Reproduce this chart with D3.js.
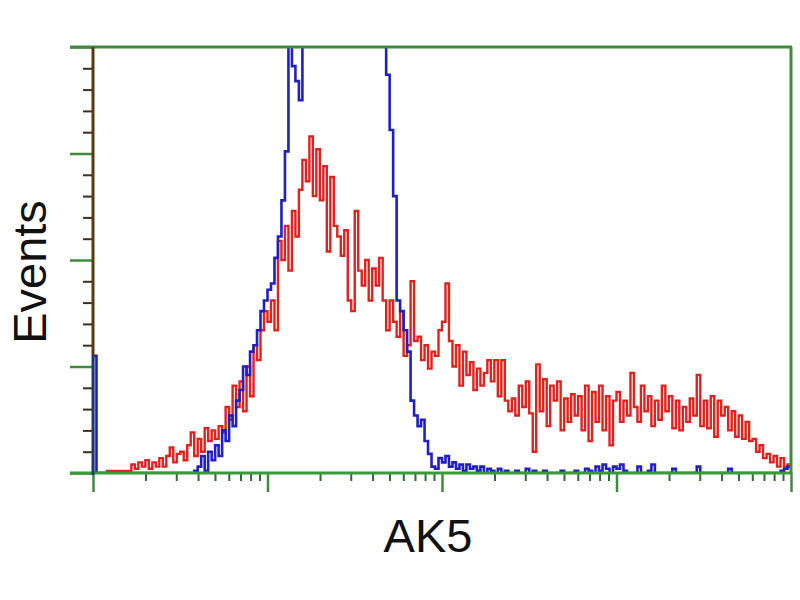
<!DOCTYPE html>
<html>
<head>
<meta charset="utf-8">
<script src="https://cdn.jsdelivr.net/npm/d3@7"></script>
<style>
  html, body { margin: 0; padding: 0; background: #fff; }
  svg { display: block; }
</style>
</head>
<body>
<svg id="chart" width="800" height="600"></svg>
<script>
// ---- Data (event counts per channel, 200 channels over 4 log decades) ----
const xLabel = "AK5";
const yLabel = "Events";
const decadeTicks = [1, 10, 100, 1000, 10000];
const yMajorTicks = [0, 50, 100, 150, 200];

const redCounts = [
  0, 0, 0, 0, 1, 1, 1, 1, 1, 1,
  1, 4, 2, 5, 3, 6, 2, 5, 3, 7,
  3, 8, 12, 5, 9, 10, 6, 13, 19, 8,
  16, 10, 21, 15, 20, 16, 22, 19, 31, 25,
  41, 31, 43, 29, 50, 36, 60, 53, 67, 76,
  71, 81, 67, 109, 100, 116, 95, 123, 111, 133,
  147, 137, 158, 130, 152, 128, 144, 104, 139, 116,
  111, 102, 114, 81, 76, 123, 95, 88, 100, 81,
  96, 88, 101, 81, 67, 81, 71, 64, 76, 55,
  60, 90, 62, 64, 53, 60, 49, 57, 55, 67,
  71, 89, 62, 50, 60, 41, 57, 46, 52, 39,
  49, 41, 47, 53, 43, 53, 36, 53, 34, 29,
  35, 27, 41, 31, 43, 28, 10, 51, 29, 44,
  22, 41, 34, 43, 20, 35, 24, 37, 27, 36,
  20, 41, 15, 38, 24, 41, 20, 36, 13, 34,
  38, 24, 34, 27, 47, 31, 24, 41, 29, 36,
  22, 34, 25, 41, 29, 36, 21, 34, 20, 31,
  24, 35, 27, 46, 22, 34, 21, 36, 17, 34,
  27, 31, 20, 29, 17, 27, 16, 24, 15, 16,
  10, 13, 7, 9, 5, 8, 3, 7, 3, 4
];

const blueCounts = [
  55, 0, 0, 0, 0, 0, 0, 0, 0, 0,
  0, 0, 0, 0, 0, 0, 0, 0, 0, 0,
  0, 0, 0, 0, 0, 0, 0, 0, 0, 1,
  3, 8, 1, 10, 6, 13, 8, 20, 15, 27,
  22, 34, 39, 50, 46, 57, 60, 67, 76, 81,
  86, 89, 101, 111, 128, 151, 260, 191, 184, 175,
  280, 310, 340, 370, 390, 400, 395, 385, 375, 360,
  350, 335, 320, 305, 290, 280, 270, 260, 250, 240,
  232, 224, 215, 205, 187, 161, 130, 81, 76, 67,
  57, 34, 27, 22, 25, 15, 9, 3, 2, 7,
  5, 8, 3, 5, 2, 4, 1, 4, 2, 3,
  1, 3, 0, 2, 1, 0, 2, 0, 1, 0,
  0, 1, 0, 0, 2, 0, 1, 0, 0, 1,
  0, 0, 0, 0, 1, 0, 0, 0, 1, 0,
  0, 2, 1, 0, 3, 1, 4, 2, 0, 3,
  2, 4, 1, 0, 0, 0, 3, 0, 0, 1,
  4, 0, 0, 0, 0, 0, 2, 0, 0, 0,
  0, 0, 0, 3, 0, 0, 0, 0, 0, 0,
  0, 0, 2, 0, 0, 0, 0, 0, 0, 0,
  0, 0, 0, 0, 0, 0, 0, 1, 2, 3
];

// ---- Layout ----
const svg = d3.select("#chart");
const pL = 93, pR = 791, pT = 47, pB = 473;
const nChan = redCounts.length;

const xChan = d3.scaleLinear().domain([0, nChan]).range([pL, pR]);
const xLog = d3.scaleLog().domain([1, 10000]).range([pL, pR]);
const y = d3.scaleLinear().domain([0, 200]).range([pB, pT]);

svg.append("rect").attr("width", 800).attr("height", 600).attr("fill", "#fff");

svg.append("defs").append("clipPath").attr("id", "plotclip")
  .append("rect").attr("x", pL - 1).attr("y", pT).attr("width", pR - pL + 2).attr("height", pB - pT);

function stepPoints(counts) {
  const pts = [[0, 0]];
  counts.forEach((v, i) => { pts.push([i, v]); pts.push([i + 1, v]); });
  return pts;
}
const line = d3.line().x(d => xChan(d[0])).y(d => y(d[1]));

const plot = svg.append("g").attr("clip-path", "url(#plotclip)");
plot.append("path").datum(stepPoints(redCounts))
  .attr("d", line).attr("fill", "none").attr("stroke", "#e0221e")
  .attr("stroke-width", 2.4).attr("stroke-linejoin", "miter");
plot.append("path").datum(stepPoints(blueCounts))
  .attr("d", line).attr("fill", "none").attr("stroke", "#2020c0")
  .attr("stroke-width", 2.6).attr("stroke-linejoin", "miter");

// ---- Axes ----
const green = "#3f8a3f";
const yMinor = d3.range(0, 201, 10).filter(v => !yMajorTicks.includes(v));
const gyMinor = svg.append("g").attr("transform", `translate(${pL},0)`)
  .call(d3.axisLeft(y).tickValues(yMinor).tickSize(10).tickFormat(""));
gyMinor.select(".domain").remove();
gyMinor.selectAll("line").attr("stroke", "#3a3020").attr("stroke-width", 2);
const gyMajor = svg.append("g").attr("transform", `translate(${pL},0)`)
  .call(d3.axisLeft(y).tickValues(yMajorTicks).tickSize(23).tickFormat(""));
gyMajor.select(".domain").remove();
gyMajor.selectAll("line").attr("stroke", green).attr("stroke-width", 2.5);

const xMinor = [];
decadeTicks.slice(0, -1).forEach(d => { for (let k = 2; k <= 9; k++) xMinor.push(d * k); });
const gxMinor = svg.append("g").attr("transform", `translate(0,${pB})`)
  .call(d3.axisBottom(xLog).tickValues(xMinor).tickSize(8).tickFormat(""));
gxMinor.select(".domain").remove();
gxMinor.selectAll("line").attr("stroke", "#2f6a2f").attr("stroke-width", 2);
const gxMajor = svg.append("g").attr("transform", `translate(0,${pB})`)
  .call(d3.axisBottom(xLog).tickValues(decadeTicks).tickSize(19).tickFormat(""));
gxMajor.select(".domain").remove();
gxMajor.selectAll("line").attr("stroke", green).attr("stroke-width", 2.5);

// Frame lines
svg.append("line").attr("x1", 70).attr("x2", pR + 1).attr("y1", pT).attr("y2", pT)
  .attr("stroke", green).attr("stroke-width", 3);
svg.append("line").attr("x1", 70).attr("x2", pR + 1).attr("y1", pB).attr("y2", pB)
  .attr("stroke", "#3a9a3a").attr("stroke-width", 3);
svg.append("line").attr("x1", pR).attr("x2", pR).attr("y1", pT).attr("y2", pB)
  .attr("stroke", green).attr("stroke-width", 3);
svg.append("line").attr("x1", pL).attr("x2", pL).attr("y1", pT).attr("y2", y(blueCounts[0]))
  .attr("stroke", "#5a3a12").attr("stroke-width", 3);
svg.append("line").attr("x1", pL).attr("x2", pL).attr("y1", y(blueCounts[0])).attr("y2", pB + 2)
  .attr("stroke", "#1f3a6a").attr("stroke-width", 3);

// ---- Labels ----
svg.append("text").attr("x", (pL + pR) / 2 - 14).attr("y", 552)
  .attr("text-anchor", "middle").attr("font-family", "Liberation Sans, Arial, sans-serif")
  .attr("font-size", 47).attr("fill", "#111").text(xLabel);
svg.append("text").attr("transform", "translate(46,272) rotate(-90)")
  .attr("text-anchor", "middle").attr("font-family", "Liberation Sans, Arial, sans-serif")
  .attr("font-size", 47).attr("fill", "#111").text(yLabel);
</script>
</body>
</html>
